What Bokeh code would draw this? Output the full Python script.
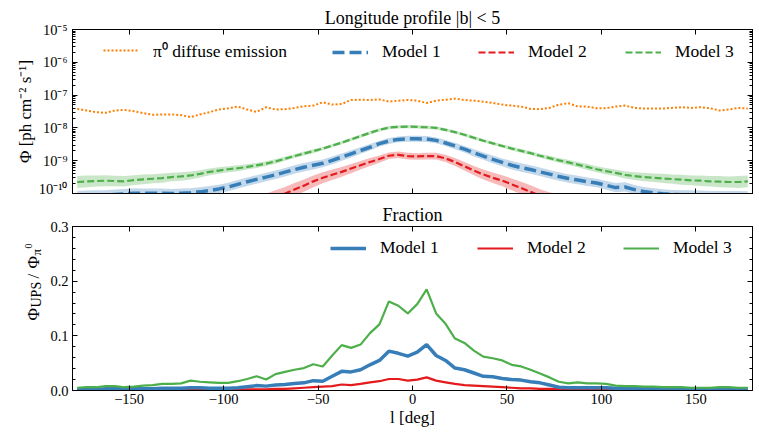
import numpy as np
from bokeh.plotting import figure
from bokeh.layouts import column, row
from bokeh.models import (Range1d, FixedTicker, LinearAxis, LogAxis, Label,
                          Legend, LegendItem, CustomJSTickFormatter, LogTicker)
from bokeh.embed import file_html
from bokeh.resources import INLINE

FONT = "Liberation Serif"

# ---------------- data ----------------
# Galactic longitude bin centres (deg)
l_deg = np.arange(-177.5, 180.0, 5.0)

# log10 of flux [ph cm^-2 s^-1]
log_pi0 = [-7.42, -7.47, -7.52, -7.54, -7.47, -7.45, -7.49, -7.55, -7.60, -7.59, -7.59, -7.61,
           -7.67, -7.59, -7.52, -7.44, -7.40, -7.35, -7.44, -7.51, -7.37, -7.44, -7.43, -7.39,
           -7.34, -7.32, -7.22, -7.29, -7.27, -7.15, -7.14, -7.15, -7.13, -7.20, -7.17, -7.15,
           -7.17, -7.24, -7.17, -7.14, -7.11, -7.15, -7.17, -7.20, -7.24, -7.29, -7.32, -7.35,
           -7.42, -7.43, -7.39, -7.29, -7.25, -7.35, -7.35, -7.40, -7.40, -7.35, -7.32, -7.39,
           -7.41, -7.41, -7.41, -7.39, -7.37, -7.39, -7.37, -7.40, -7.47, -7.44, -7.39, -7.41]

log_m1 = [-10.08, -10.07, -10.06, -10.05, -10.03, -10.01, -9.99, -9.99, -9.99, -9.99, -10.00, -9.99,
          -9.98, -9.95, -9.91, -9.86, -9.80, -9.72, -9.64, -9.57, -9.50, -9.43, -9.35, -9.27,
          -9.20, -9.14, -9.08, -8.99, -8.89, -8.79, -8.69, -8.59, -8.48, -8.40, -8.35, -8.33,
          -8.33, -8.34, -8.38, -8.46, -8.55, -8.65, -8.76, -8.86, -8.96, -9.05, -9.14, -9.21,
          -9.27, -9.34, -9.41, -9.48, -9.54, -9.59, -9.64, -9.68, -9.75, -9.82, -9.80, -9.88,
          -9.94, -9.98, -10.01, -10.03, -10.04, -10.05, -10.06, -10.07, -10.07, -10.08, -10.08, -10.09]

log_m2 = [-11.00, -10.98, -10.95, -10.92, -10.90, -10.87, -10.84, -10.80, -10.77, -10.73, -10.70, -10.66,
          -10.62, -10.58, -10.54, -10.50, -10.46, -10.42, -10.36, -10.28, -10.20, -10.10, -10.00, -9.88,
          -9.76, -9.63, -9.52, -9.43, -9.34, -9.24, -9.14, -9.04, -8.95, -8.85, -8.82, -8.86,
          -8.87, -8.86, -8.86, -8.93, -9.04, -9.17, -9.30, -9.42, -9.52, -9.61, -9.72, -9.83,
          -9.95, -10.07, -10.16, -10.24, -10.32, -10.40, -10.46, -10.52, -10.57, -10.62, -10.66, -10.70,
          -10.74, -10.77, -10.80, -10.83, -10.86, -10.88, -10.90, -10.92, -10.94, -10.96, -10.98, -11.00]

log_m3 = [-9.65, -9.63, -9.62, -9.61, -9.62, -9.63, -9.59, -9.57, -9.55, -9.53, -9.50, -9.48,
          -9.45, -9.40, -9.34, -9.30, -9.26, -9.23, -9.19, -9.14, -9.09, -9.02, -8.94, -8.86,
          -8.78, -8.71, -8.63, -8.54, -8.45, -8.35, -8.25, -8.15, -8.06, -7.99, -7.97, -7.96,
          -7.97, -7.98, -8.00, -8.06, -8.13, -8.21, -8.30, -8.39, -8.47, -8.55, -8.63, -8.70,
          -8.77, -8.85, -8.92, -8.99, -9.05, -9.12, -9.19, -9.26, -9.32, -9.37, -9.43, -9.47,
          -9.50, -9.52, -9.54, -9.56, -9.58, -9.60, -9.61, -9.63, -9.64, -9.65, -9.65, -9.63]

# half-width of the uncertainty bands (dex)
err_m1 = [0.16, 0.16, 0.16, 0.15, 0.15, 0.15, 0.15, 0.14, 0.14, 0.14, 0.14, 0.14,
          0.14, 0.14, 0.14, 0.13, 0.13, 0.13, 0.13, 0.13, 0.13, 0.13, 0.13, 0.13,
          0.13, 0.13, 0.12, 0.12, 0.11, 0.11, 0.10, 0.10, 0.09, 0.09, 0.09, 0.09,
          0.09, 0.09, 0.09, 0.09, 0.10, 0.10, 0.11, 0.11, 0.12, 0.12, 0.13, 0.13,
          0.13, 0.13, 0.13, 0.13, 0.13, 0.13, 0.13, 0.13, 0.13, 0.14, 0.14, 0.14,
          0.14, 0.14, 0.14, 0.14, 0.14, 0.15, 0.15, 0.15, 0.15, 0.16, 0.16, 0.16]
err_m2 = [0.20, 0.20, 0.20, 0.20, 0.20, 0.20, 0.20, 0.20, 0.20, 0.20, 0.20, 0.20,
          0.20, 0.20, 0.20, 0.20, 0.20, 0.20, 0.20, 0.20, 0.20, 0.20, 0.20, 0.20,
          0.19, 0.18, 0.17, 0.16, 0.15, 0.14, 0.13, 0.12, 0.11, 0.10, 0.10, 0.10,
          0.10, 0.10, 0.10, 0.11, 0.12, 0.13, 0.14, 0.15, 0.16, 0.17, 0.18, 0.19,
          0.20, 0.20, 0.20, 0.20, 0.20, 0.20, 0.20, 0.20, 0.20, 0.20, 0.20, 0.20,
          0.20, 0.20, 0.20, 0.20, 0.20, 0.20, 0.20, 0.20, 0.20, 0.20, 0.20, 0.20]
err_m3 = [0.18, 0.18, 0.17, 0.17, 0.16, 0.16, 0.15, 0.15, 0.14, 0.14, 0.13, 0.13,
          0.12, 0.11, 0.10, 0.10, 0.09, 0.09, 0.08, 0.08, 0.07, 0.07, 0.06, 0.06,
          0.06, 0.06, 0.05, 0.05, 0.05, 0.05, 0.05, 0.05, 0.05, 0.05, 0.05, 0.05,
          0.05, 0.05, 0.05, 0.05, 0.05, 0.05, 0.05, 0.05, 0.05, 0.05, 0.06, 0.06,
          0.06, 0.06, 0.07, 0.07, 0.08, 0.08, 0.09, 0.09, 0.10, 0.10, 0.11, 0.12,
          0.13, 0.13, 0.14, 0.14, 0.15, 0.15, 0.16, 0.16, 0.17, 0.17, 0.18, 0.18]

# fraction Phi_UPS / Phi_pi0
frac_m1 = [0.002, 0.002, 0.002, 0.003, 0.003, 0.003, 0.003, 0.003, 0.003, 0.004, 0.004, 0.004,
           0.005, 0.005, 0.004, 0.004, 0.004, 0.005, 0.007, 0.009, 0.008, 0.010, 0.011, 0.013,
           0.014, 0.018, 0.017, 0.026, 0.035, 0.034, 0.038, 0.047, 0.055, 0.072, 0.068, 0.063,
           0.070, 0.084, 0.064, 0.055, 0.041, 0.038, 0.032, 0.026, 0.025, 0.022, 0.020, 0.019,
           0.016, 0.014, 0.010, 0.006, 0.005, 0.005, 0.005, 0.005, 0.005, 0.004, 0.004, 0.004,
           0.004, 0.004, 0.004, 0.004, 0.003, 0.003, 0.003, 0.003, 0.003, 0.003, 0.003, 0.003]
frac_m2 = [0.001, 0.001, 0.001, 0.001, 0.001, 0.001, 0.001, 0.001, 0.001, 0.001, 0.001, 0.001,
           0.001, 0.001, 0.001, 0.001, 0.001, 0.001, 0.002, 0.002, 0.002, 0.003, 0.003, 0.004,
           0.005, 0.006, 0.007, 0.008, 0.011, 0.010, 0.012, 0.015, 0.017, 0.021, 0.021, 0.018,
           0.020, 0.024, 0.018, 0.015, 0.012, 0.010, 0.009, 0.008, 0.007, 0.006, 0.005, 0.004,
           0.004, 0.003, 0.003, 0.002, 0.002, 0.002, 0.001, 0.001, 0.001, 0.001, 0.001, 0.001,
           0.001, 0.001, 0.001, 0.001, 0.001, 0.001, 0.001, 0.001, 0.001, 0.001, 0.001, 0.001]
frac_m3 = [0.005, 0.006, 0.006, 0.008, 0.008, 0.006, 0.007, 0.009, 0.010, 0.012, 0.012, 0.013,
           0.018, 0.016, 0.015, 0.014, 0.014, 0.017, 0.021, 0.026, 0.020, 0.030, 0.034, 0.038,
           0.041, 0.048, 0.044, 0.064, 0.083, 0.078, 0.084, 0.105, 0.121, 0.163, 0.155, 0.141,
           0.158, 0.185, 0.141, 0.122, 0.095, 0.087, 0.073, 0.062, 0.059, 0.055, 0.047, 0.044,
           0.038, 0.031, 0.024, 0.016, 0.013, 0.015, 0.013, 0.013, 0.012, 0.009, 0.008, 0.008,
           0.007, 0.007, 0.006, 0.006, 0.006, 0.005, 0.005, 0.005, 0.006, 0.006, 0.005, 0.005]

x_ticks = [-150, -100, -50, 0, 50, 100, 150]
frac_ticks = [0.0, 0.1, 0.2, 0.3]
frac_minor = [0.02, 0.04, 0.06, 0.08, 0.12, 0.14, 0.16, 0.18, 0.22, 0.24, 0.26, 0.28]

C_M1, C_M2, C_M3, C_PI = "#377eb8", "#e41a1c", "#4daf4a", "#ff7f00"

# ---------------- helpers ----------------
def style_axis(ax, labels=True):
    ax.major_tick_in = 5
    ax.major_tick_out = 0
    ax.minor_tick_in = 3
    ax.minor_tick_out = 0
    ax.axis_line_color = "black"
    ax.major_tick_line_color = "black"
    ax.minor_tick_line_color = "black"
    ax.major_label_text_font = FONT
    ax.major_label_text_color = "black"
    ax.major_label_text_font_size = "14.5px"
    ax.axis_label_text_font = FONT
    ax.axis_label_text_font_style = "normal"
    ax.axis_label_text_font_size = "17px"
    ax.axis_label_text_color = "black"
    if not labels:
        ax.major_label_text_font_size = "1px"
        ax.major_label_text_alpha = 0
        ax.major_label_standoff = 0


minus_fmt = CustomJSTickFormatter(code="""
return (tick < 0 ? "\u2212" : "") + Math.abs(tick).toFixed(0);
""")
pow_fmt = CustomJSTickFormatter(code="""
const sup = {"-":"\u207b","0":"\u2070","1":"\u00b9","2":"\u00b2","3":"\u00b3",
             "4":"\u2074","5":"\u2075","6":"\u2076","7":"\u2077","8":"\u2078","9":"\u2079"};
const e = Math.round(Math.log10(tick));
return "10" + String(e).split("").map(c => sup[c]).join("");
""")
frac_fmt = CustomJSTickFormatter(code="return tick.toFixed(1);")


def label(p, text, x, y, size="17px", style="normal", align="left", angle=0.0):
    p.add_layout(Label(x=x, y=y, x_units="screen", y_units="screen", text=text,
                       text_font=FONT, text_font_size=size, text_font_style=style,
                       text_align=align, text_baseline="alphabetic", angle=angle,
                       text_color="black"))


def add_legend(p, name, renderer, x, y):
    lg = Legend(items=[LegendItem(label=name, renderers=[renderer])], location=(x, y),
                orientation="horizontal", padding=0, margin=0, spacing=0,
                border_line_color=None, background_fill_alpha=0,
                glyph_width=36, glyph_height=20, label_height=20, label_standoff=14,
                label_text_font=FONT, label_text_font_size="17.5px", label_text_color="black")
    p.add_layout(lg)


def style_title(p, text, standoff):
    p.title.text = text
    p.title.align = "center"
    p.title.text_font = FONT
    p.title.text_font_size = "18px"
    p.title.text_font_style = "normal"
    p.title.text_color = "black"
    p.title.standoff = standoff


# ---------------- top panel ----------------
p1 = figure(width=756, height=196, x_range=Range1d(-180, 180),
            y_range=Range1d(1e-10, 1e-5), y_axis_type="log",
            output_backend="svg", toolbar_location=None,
            min_border_left=72, min_border_right=4, min_border_top=29, min_border_bottom=3)
p1.xgrid.visible = False
p1.ygrid.visible = False
p1.outline_line_color = "black"
style_title(p1, "Longitude profile |b| < 5", 4)

p1.xaxis.ticker = FixedTicker(ticks=x_ticks, minor_ticks=[])
style_axis(p1.xaxis[0], labels=False)
p1.yaxis.ticker = LogTicker(num_minor_ticks=10)
p1.yaxis.formatter = pow_fmt
style_axis(p1.yaxis[0])
p1.yaxis.major_label_standoff = 5
p1.yaxis.axis_label = "Φ [ph cm⁻² s⁻¹]"
p1.yaxis.axis_label_standoff = 1

ax_top = LinearAxis(ticker=FixedTicker(ticks=x_ticks, minor_ticks=[]))
style_axis(ax_top, labels=False)
p1.add_layout(ax_top, "above")
ax_right = LogAxis(ticker=LogTicker(num_minor_ticks=10), formatter=pow_fmt)
style_axis(ax_right, labels=False)
p1.add_layout(ax_right, "right")

L = np.asarray(l_deg)
for lg, er, col in [(log_m1, err_m1, C_M1), (log_m2, err_m2, C_M2), (log_m3, err_m3, C_M3)]:
    lg_a = np.asarray(lg)
    er_a = np.asarray(er)
    p1.varea(x=L, y1=10 ** (lg_a - er_a), y2=10 ** (lg_a + er_a), fill_color=col, fill_alpha=0.3)

r_pi = p1.line(L, 10 ** np.asarray(log_pi0), line_color=C_PI, line_width=2, line_dash="2 2")
r1 = p1.line(L, 10 ** np.asarray(log_m1), line_color=C_M1, line_width=3.5, line_dash="12 5")
r2 = p1.line(L, 10 ** np.asarray(log_m2), line_color=C_M2, line_width=2.2, line_dash="7 3")
r3 = p1.line(L, 10 ** np.asarray(log_m3), line_color=C_M3, line_width=2.2, line_dash="7 3")

add_legend(p1, "π⁰ diffuse emission", r_pi, 31, 131)
add_legend(p1, "Model 1", r1, 260, 131)
add_legend(p1, "Model 2", r2, 406, 131)
add_legend(p1, "Model 3", r3, 553, 131)

# ---------------- bottom panel ----------------
p2 = figure(width=712, height=236, x_range=p1.x_range,
            y_range=Range1d(0.0, 0.3), output_backend="svg", toolbar_location=None,
            min_border_left=28, min_border_right=4, min_border_top=30, min_border_bottom=42)
p2.xgrid.visible = False
p2.ygrid.visible = False
p2.outline_line_color = "black"
style_title(p2, "Fraction", 3)

p2.xaxis.ticker = FixedTicker(ticks=x_ticks, minor_ticks=[])
p2.xaxis.formatter = minus_fmt
style_axis(p2.xaxis[0])
p2.xaxis.major_label_standoff = 3
p2.xaxis.axis_label = "l [deg]"
p2.xaxis.axis_label_standoff = 1
p2.yaxis.ticker = FixedTicker(ticks=frac_ticks, minor_ticks=frac_minor)
p2.yaxis.formatter = frac_fmt
style_axis(p2.yaxis[0])
p2.yaxis.major_label_standoff = 4

ax_top2 = LinearAxis(ticker=FixedTicker(ticks=x_ticks, minor_ticks=[]))
style_axis(ax_top2, labels=False)
p2.add_layout(ax_top2, "above")
ax_right2 = LinearAxis(ticker=FixedTicker(ticks=frac_ticks, minor_ticks=frac_minor))
style_axis(ax_right2, labels=False)
p2.add_layout(ax_right2, "right")

q2 = p2.line(L, frac_m2, line_color=C_M2, line_width=2.2)
q1 = p2.line(L, frac_m1, line_color=C_M1, line_width=3.5)
q3 = p2.line(L, frac_m3, line_color=C_M3, line_width=2.2)

add_legend(p2, "Model 1", q1, 258, 132)
add_legend(p2, "Model 2", q2, 405, 132)
add_legend(p2, "Model 3", q3, 551, 132)

# ---------------- y-label of the bottom panel: Phi_UPS / Phi_pi0 ----------------
yl = figure(width=44, height=236, x_range=Range1d(0, 1), y_range=Range1d(0, 1),
            x_axis_location=None, y_axis_location=None, output_backend="svg",
            toolbar_location=None, min_border=0, outline_line_color=None)
yl.xgrid.visible = False
yl.ygrid.visible = False
ang = np.pi / 2
label(yl, "Φ", 33, 70, angle=ang)
label(yl, "UPS", 36, 83, size="14px", angle=ang)
label(yl, "/", 33, 112, angle=ang)
label(yl, "Φ", 33, 122, angle=ang)
label(yl, "π", 36, 135, size="13px", angle=ang)
label(yl, "0", 28, 142, size="10px", angle=ang)

layout = column(p1, row(yl, p2, spacing=0), spacing=0)
open("out.html", "w", encoding="utf-8").write(file_html(layout, INLINE))
